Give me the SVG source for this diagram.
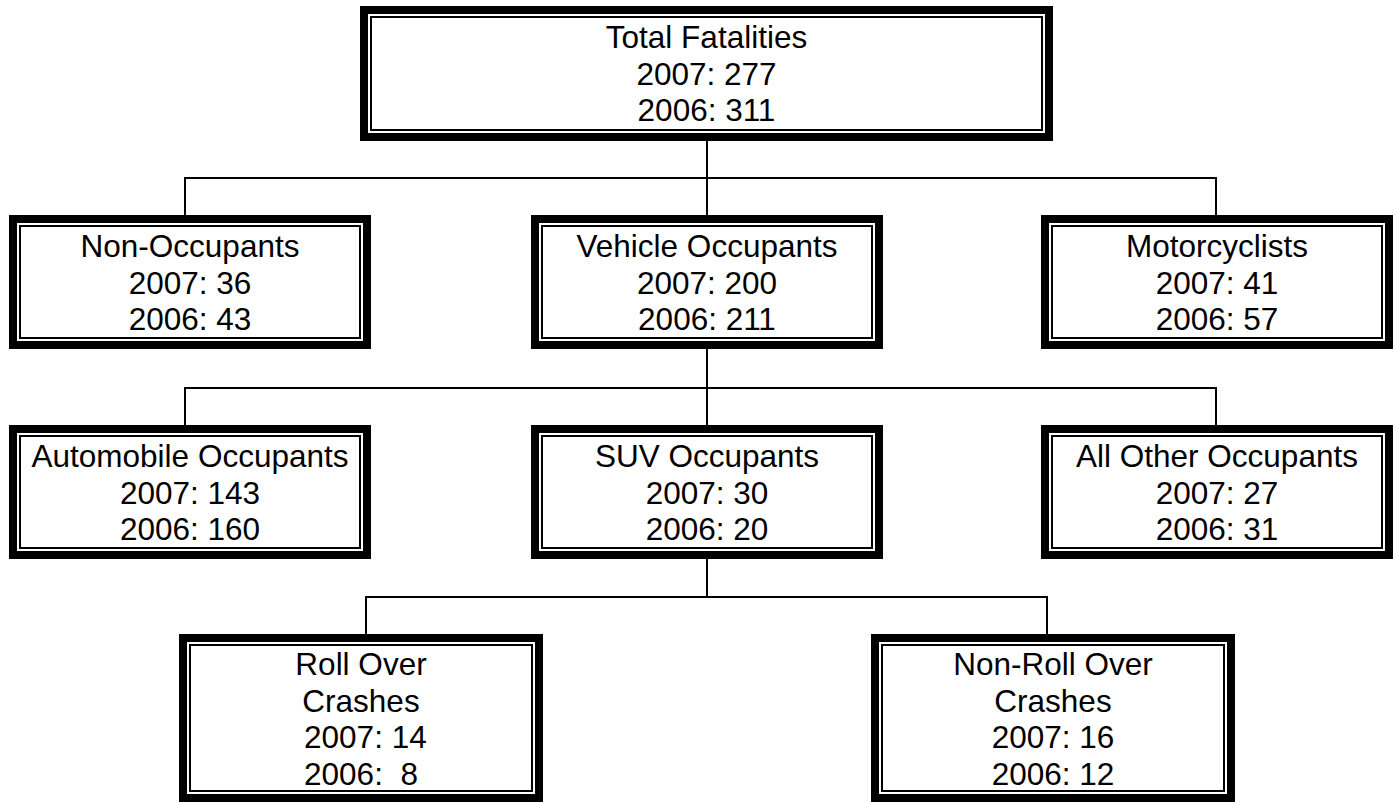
<svg xmlns="http://www.w3.org/2000/svg" width="1395" height="803" viewBox="0 0 1395 803">
<style>
.o{fill:none;stroke:#000;stroke-width:8}
.i{fill:none;stroke:#000;stroke-width:2}
.t{font-family:"Liberation Sans",Arial,sans-serif;font-size:31.5px;fill:#000;text-anchor:middle}
.c{fill:none;stroke:#000;stroke-width:2}
</style>
<rect width="1395" height="803" fill="#fff"/>
<g id="connectors">
<path class="c" d="M707 141V178M185 215V178H1216V215M707 178V215"/>
<path class="c" d="M707 349V388M185 425V388H1216V425M707 388V425"/>
<path class="c" d="M707 559V597M366 634V597H1047V634"/>
</g>
<g id="total">
<rect class="o" x="364" y="10" width="685" height="127"/>
<rect class="i" x="371" y="17" width="671" height="113"/>
<text class="t" x="706.5" y="48">Total Fatalities</text>
<text class="t" x="706.5" y="84.5">2007: 277</text>
<text class="t" x="706.5" y="121">2006: 311</text>
</g>
<g id="nonocc">
<rect class="o" x="13" y="219" width="354" height="126"/>
<rect class="i" x="20" y="226" width="340" height="112"/>
<text class="t" x="190" y="257">Non-Occupants</text>
<text class="t" x="190" y="293.5">2007: 36</text>
<text class="t" x="190" y="330">2006: 43</text>
</g>
<g id="vehicle">
<rect class="o" x="535" y="219" width="344" height="126"/>
<rect class="i" x="542" y="226" width="330" height="112"/>
<text class="t" x="707" y="257">Vehicle Occupants</text>
<text class="t" x="707" y="293.5">2007: 200</text>
<text class="t" x="707" y="330">2006: 211</text>
</g>
<g id="motor">
<rect class="o" x="1045" y="219" width="344" height="126"/>
<rect class="i" x="1052" y="226" width="330" height="112"/>
<text class="t" x="1217" y="257">Motorcyclists</text>
<text class="t" x="1217" y="293.5">2007: 41</text>
<text class="t" x="1217" y="330">2006: 57</text>
</g>
<g id="auto">
<rect class="o" x="13" y="429" width="354" height="126"/>
<rect class="i" x="20" y="436" width="340" height="112"/>
<text class="t" x="190" y="467">Automobile Occupants</text>
<text class="t" x="190" y="503.5">2007: 143</text>
<text class="t" x="190" y="540">2006: 160</text>
</g>
<g id="suv">
<rect class="o" x="535" y="429" width="344" height="126"/>
<rect class="i" x="542" y="436" width="330" height="112"/>
<text class="t" x="707" y="467">SUV Occupants</text>
<text class="t" x="707" y="503.5">2007: 30</text>
<text class="t" x="707" y="540">2006: 20</text>
</g>
<g id="other">
<rect class="o" x="1045" y="429" width="344" height="126"/>
<rect class="i" x="1052" y="436" width="330" height="112"/>
<text class="t" x="1217" y="467">All Other Occupants</text>
<text class="t" x="1217" y="503.5">2007: 27</text>
<text class="t" x="1217" y="540">2006: 31</text>
</g>
<g id="rollover">
<rect class="o" x="183" y="638" width="356" height="160"/>
<rect class="i" x="190" y="645" width="342" height="146"/>
<text class="t" x="361" y="675">Roll Over</text>
<text class="t" x="361" y="711.5">Crashes</text>
<text class="t" x="361" y="748" xml:space="preserve"> 2007: 14</text>
<text class="t" x="361" y="785" xml:space="preserve">2006:  8</text>
</g>
<g id="nonrollover">
<rect class="o" x="875" y="638" width="356" height="160"/>
<rect class="i" x="882" y="645" width="342" height="146"/>
<text class="t" x="1053" y="675">Non-Roll Over</text>
<text class="t" x="1053" y="711.5">Crashes</text>
<text class="t" x="1053" y="748">2007: 16</text>
<text class="t" x="1053" y="785">2006: 12</text>
</g>
</svg>
